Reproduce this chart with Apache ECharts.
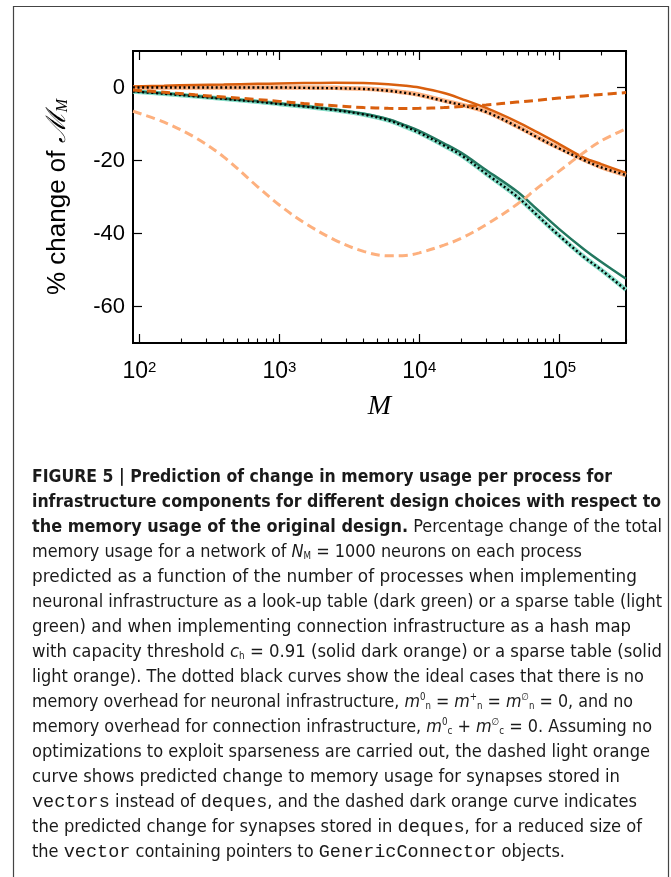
<!DOCTYPE html>
<html><head><meta charset="utf-8">
<script src="https://cdn.jsdelivr.net/npm/echarts@6/dist/echarts.min.js"></script>
<style>html,body{margin:0;padding:0;background:#fff}#c{width:671px;height:877px}</style>
</head><body><div id="c"></div>
<script>
// ---- data ----
const M = [90,150,250,400,700,1000,1500,2500,4000,6000,8000,10000,15000,20000,30000,50000,70000,100000,150000,200000,300000];
const hashMapSolid   = [0.3,0.5,0.7,0.8,1.0,1.1,1.2,1.3,1.2,0.9,0.5,0.0,-1.5,-3.1,-5.6,-9.4,-12.3,-15.5,-19.2,-21.0,-23.4];
const sparseConnSolid= [0.0,0.0,0.0,0.0,0.0,0.0,0.0,-0.1,-0.3,-0.8,-1.4,-2.0,-3.6,-4.7,-6.6,-10.6,-13.6,-16.6,-19.8,-21.8,-24.0];
const idealConnDotted= [0.0,0.0,0.0,0.0,0.0,0.0,-0.1,-0.2,-0.4,-0.9,-1.5,-2.1,-3.7,-4.8,-6.7,-10.7,-13.7,-16.7,-19.9,-21.9,-24.0];
const lookupSolid    = [-1.0,-1.6,-2.3,-3.0,-3.8,-4.4,-5.1,-6.0,-7.2,-8.7,-10.4,-11.9,-15.3,-17.9,-22.6,-28.5,-33.5,-38.8,-44.3,-47.8,-52.4];
const sparseNeurSolid= [-1.1,-1.7,-2.4,-3.1,-3.9,-4.5,-5.2,-6.2,-7.4,-9.0,-10.8,-12.4,-15.9,-18.6,-23.6,-29.9,-35.1,-40.6,-46.4,-50.0,-55.4];
const idealNeurDotted= [-1.1,-1.7,-2.4,-3.1,-3.9,-4.5,-5.2,-6.2,-7.4,-9.0,-10.8,-12.4,-15.9,-18.6,-23.6,-29.9,-35.1,-40.6,-46.4,-50.0,-55.5];
const dequesDashed   = [-0.7,-1.3,-2.0,-2.6,-3.3,-3.8,-4.4,-5.0,-5.5,-5.7,-5.75,-5.7,-5.5,-5.2,-4.8,-4.0,-3.5,-2.9,-2.3,-1.9,-1.4];
const vectorsDashed  = [-6.5,-9.5,-13.7,-19.0,-27.2,-32.2,-37.0,-41.8,-44.9,-46.1,-46.0,-45.3,-43.2,-41.3,-37.6,-32.0,-27.5,-22.9,-17.8,-14.6,-11.3];
const xMajorTicks = [100,1000,10000,100000];
const xMinorTicks = [200,300,400,500,600,700,800,900,2000,3000,4000,5000,6000,7000,8000,9000,20000,30000,40000,50000,60000,70000,80000,90000,200000,300000];
const yTicks = [-60,-40,-20,0];

const C = {darkOrange:'#d95f0e', lightOrange:'#fdb07e', darkGreen:'#22775f', lightGreen:'#82dcc6'};
const pts = arr => M.map((m,i)=>[m, arr[i]]);

const chart = echarts.init(document.getElementById('c'), null, {renderer:'canvas', width:671, height:877});

const logX = (extra) => Object.assign({
  type:'log', logBase:10, min:90, max:300000, gridIndex:0,
  axisLine:{show:false, onZero:false}, splitLine:{show:false},
  axisLabel:{show:false},
  axisTick:{inside:true, length:9, customValues:xMajorTicks, lineStyle:{color:'#000', width:1.2}}
}, extra);

const line = (name, arr, color, width, type, z, extra) => Object.assign({
  name, type:'line', data:pts(arr), showSymbol:false, symbol:'none', smooth:0.35,
  lineStyle:{color, width, type}, z, animation:false, silent:true
}, extra||{});

const SERIF = '"Liberation Serif","DejaVu Serif",serif';
const SANS = '"Liberation Sans",Arial,sans-serif';
const CAPF = '"DejaVu Sans Condensed","Liberation Sans Narrow",sans-serif';
const MONO = '"Liberation Mono","DejaVu Sans Mono",monospace';
const INK = '#1a1a1a';

const capRich = {
  n:{fontFamily:CAPF, fontSize:18.5, fill:INK},
  b:{fontFamily:CAPF, fontSize:18.5, fontWeight:'bold', fill:INK},
  i:{fontFamily:CAPF, fontSize:18.5, fontStyle:'italic', fill:INK},
  sub:{fontFamily:CAPF, fontSize:10, fill:INK, verticalAlign:'bottom'},
  sup:{fontFamily:CAPF, fontSize:10, fill:INK, verticalAlign:'top'},
  mono:{fontFamily:MONO, fontSize:19, fill:INK}
};
const capLines = [
  '{b|FIGURE 5 | Prediction of change in memory usage per process for}',
  '{b|infrastructure components for different design choices with respect to}',
  '{b|the memory usage of the original design.}{n| Percentage change of the total}',
  '{n|memory usage for a network of }{i|N}{sub|M}{n| = 1000 neurons on each process}',
  '{n|predicted as a function of the number of processes when implementing}',
  '{n|neuronal infrastructure as a look-up table (dark green) or a sparse table (light}',
  '{n|green) and when implementing connection infrastructure as a hash map}',
  '{n|with capacity threshold }{i|c}{sub|h}{n| = 0.91 (solid dark orange) or a sparse table (solid}',
  '{n|light orange). The dotted black curves show the ideal cases that there is no}',
  '{n|memory overhead for neuronal infrastructure, }{i|m}{sup|0}{sub|n}{n| = }{i|m}{sup|+}{sub|n}{n| = }{i|m}{sup|∅}{sub|n}{n| = 0, and no}',
  '{n|memory overhead for connection infrastructure, }{i|m}{sup|0}{sub|c}{n| + }{i|m}{sup|∅}{sub|c}{n| = 0. Assuming no}',
  '{n|optimizations to exploit sparseness are carried out, the dashed light orange}',
  '{n|curve shows predicted change to memory usage for synapses stored in}',
  '{mono|vectors}{n| instead of }{mono|deques}{n|, and the dashed dark orange curve indicates}',
  '{n|the predicted change for synapses stored in }{mono|deques}{n|, for a reduced size of}',
  '{n|the }{mono|vector}{n| containing pointers to }{mono|GenericConnector}{n| objects.}'
];
// right edge of each caption line in the reference (layout, px)
const capRight = [612,661,662,582,637,662,631,662,644,633,652,650,620,637,642,565];
const CAP_LEFT = 32;

const mctx = document.createElement('canvas').getContext('2d');
function richWidth(t){
  let w = 0; const re = /\{(\w+)\|([^}]*)\}/g; let m;
  while ((m = re.exec(t))){
    const s = capRich[m[1]];
    mctx.font = (s.fontStyle||'normal')+' '+(s.fontWeight||'normal')+' '+s.fontSize+'px '+s.fontFamily;
    w += mctx.measureText(m[2]).width;
  }
  return w;
}

const graphics = [{
  type:'rect', shape:{x:13.5, y:6.5, width:655, height:900}, silent:true,
  style:{fill:'none', stroke:'#444', lineWidth:1.2}, z:-1
}];
capLines.forEach((t,k)=>{
  const sx = (capRight[k]-CAP_LEFT)/richWidth(t);
  graphics.push({type:'text', x:CAP_LEFT, y:477+25*k, scaleX:sx, silent:true,
    style:{text:t, rich:capRich, verticalAlign:'middle', align:'left', font:'18px '+CAPF, fill:INK}});
});

chart.setOption({
  animation:false,
  backgroundColor:'#fff',
  grid:{left:133, top:51, width:493, height:292, show:true, borderColor:'#000', borderWidth:2, backgroundColor:'transparent'},
  xAxis:[
    logX({position:'bottom', name:'M', nameLocation:'middle', nameGap:50,
      nameTextStyle:{fontFamily:SERIF, fontStyle:'italic', fontSize:28, color:'#000'},
      axisLabel:{show:true, margin:17, color:'#000', customValues:xMajorTicks,
        formatter:v=>'{b|10}{s|'+Math.round(Math.log10(v))+'}',
        rich:{b:{fontFamily:SANS, fontSize:23, color:'#000'}, s:{fontFamily:SANS, fontSize:15, color:'#000', verticalAlign:'top'}}}}),
    logX({position:'bottom', axisTick:{inside:true, length:4.5, customValues:xMinorTicks, lineStyle:{color:'#000', width:1.1}}}),
    logX({position:'top'}),
    logX({position:'top', axisTick:{inside:true, length:4.5, customValues:xMinorTicks, lineStyle:{color:'#000', width:1.1}}})
  ],
  yAxis:[
    {type:'value', min:-70, max:10, position:'left', gridIndex:0,
     axisLine:{show:false, onZero:false}, splitLine:{show:false},
     axisTick:{inside:true, length:9, customValues:yTicks, lineStyle:{color:'#000', width:1.2}},
     axisLabel:{customValues:yTicks, margin:8, fontFamily:SANS, fontSize:22, color:'#000'},
     name:'{t|% change of }{m|ℳ}{s|M}', nameLocation:'middle', nameGap:62, nameRotate:90,
     nameTextStyle:{rich:{t:{fontFamily:SANS, fontSize:26, color:'#000'}, m:{fontFamily:'"DejaVu Serif",serif', fontStyle:'italic', fontSize:27, color:'#000'}, s:{fontFamily:SERIF, fontStyle:'italic', fontSize:16, color:'#000', verticalAlign:'bottom'}}}},
    {type:'value', min:-70, max:10, position:'right', gridIndex:0,
     axisLine:{show:false, onZero:false}, splitLine:{show:false},
     axisTick:{inside:true, length:9, customValues:yTicks, lineStyle:{color:'#000', width:1.2}},
     axisLabel:{show:false}}
  ],
  series:[
    line('sparse table (connection)', sparseConnSolid, C.lightOrange, 4.5, 'solid', 2),
    line('sparse table (neuronal)', sparseNeurSolid, C.lightGreen, 4.5, 'solid', 2),
    line('hash map', hashMapSolid, C.darkOrange, 2.5, 'solid', 3),
    line('look-up table', lookupSolid, C.darkGreen, 2.5, 'solid', 3),
    line('ideal connection', idealConnDotted, '#000', 2.4, [2,2.6], 4),
    line('ideal neuronal', idealNeurDotted, '#000', 2.4, [2,2.6], 4),
    line('deques (reduced)', dequesDashed, C.darkOrange, 3, [9,5], 5),
    line('vectors', vectorsDashed, C.lightOrange, 3, [9,5], 5)
  ],
  graphic:graphics
});
</script></body></html>
